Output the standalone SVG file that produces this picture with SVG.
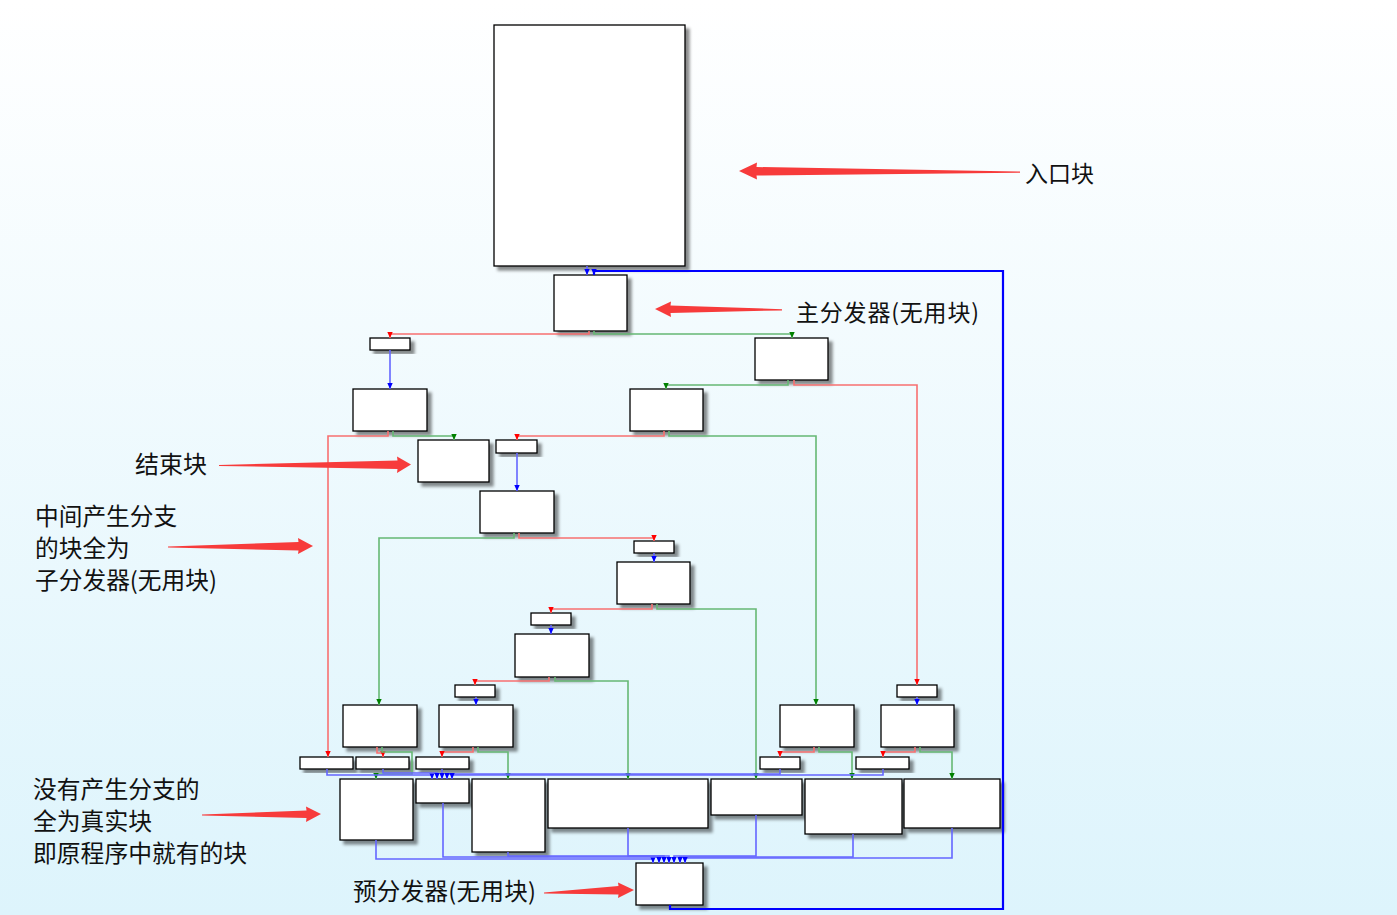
<svg xmlns="http://www.w3.org/2000/svg" width="1397" height="915" viewBox="0 0 1397 915">
<defs>
<linearGradient id="bg" x1="0" y1="0" x2="0" y2="1">
<stop offset="0" stop-color="#ffffff"/>
<stop offset="1" stop-color="#ddf4fc"/>
</linearGradient>
<filter id="sh" x="-20%" y="-20%" width="150%" height="150%">
<feDropShadow dx="4" dy="4" stdDeviation="1.6" flood-color="#000" flood-opacity="0.45"/>
</filter>
<marker id="ar" viewBox="0 0 6 6" refX="6" refY="3" markerWidth="6" markerHeight="6" markerUnits="userSpaceOnUse" orient="auto"><path d="M0,0.3 L6,3 L0,5.7z" fill="#f00"/></marker>
<marker id="ag" viewBox="0 0 6 6" refX="6" refY="3" markerWidth="6" markerHeight="6" markerUnits="userSpaceOnUse" orient="auto"><path d="M0,0.3 L6,3 L0,5.7z" fill="#008000"/></marker>
<marker id="ab" viewBox="0 0 6 6" refX="6" refY="3" markerWidth="6" markerHeight="6" markerUnits="userSpaceOnUse" orient="auto"><path d="M0,0.3 L6,3 L0,5.7z" fill="#00f"/></marker>
</defs>
<style>
.n rect{fill:#fff;stroke:#000;stroke-width:1.3;filter:url(#sh)}
#edges path{fill:none;stroke-width:1.6;stroke-linejoin:miter}
.r{stroke:#f87070;marker-end:url(#ar)}
.g{stroke:#66b874;marker-end:url(#ag)}
.b{stroke:#6466ff;marker-end:url(#ab)}
.loop{stroke:#0000ff;stroke-width:2.2 !important;marker-end:url(#ab)}
.note{fill:#f73b3b}
text{font-family:"Noto Sans CJK SC","Noto Sans",sans-serif;fill:#111}
</style>
<rect x="0" y="0" width="1397" height="915" fill="url(#bg)"/>

<g id="nodes">
<g id="entry" class="n"><rect x="494" y="25" width="191" height="241"/></g>
<g id="disp" class="n"><rect x="554" y="275" width="73" height="56"/></g>
<g id="sA" class="n"><rect x="370" y="338" width="40" height="12"/></g>
<g id="B" class="n"><rect x="755" y="338" width="73" height="42"/></g>
<g id="C" class="n"><rect x="353" y="389" width="74" height="42"/></g>
<g id="D" class="n"><rect x="630" y="389" width="73" height="42"/></g>
<g id="endblk" class="n"><rect x="418" y="440" width="71" height="42"/></g>
<g id="sE" class="n"><rect x="496" y="440" width="41" height="13"/></g>
<g id="F" class="n"><rect x="480" y="491" width="74" height="42"/></g>
<g id="sG" class="n"><rect x="634" y="541" width="40" height="12"/></g>
<g id="H" class="n"><rect x="617" y="562" width="73" height="42"/></g>
<g id="sI" class="n"><rect x="531" y="613" width="40" height="12"/></g>
<g id="J" class="n"><rect x="515" y="634" width="74" height="43"/></g>
<g id="sK" class="n"><rect x="455" y="685" width="40" height="12"/></g>
<g id="sL" class="n"><rect x="897" y="685" width="40" height="12"/></g>
<g id="M" class="n"><rect x="343" y="705" width="74" height="42"/></g>
<g id="N" class="n"><rect x="439" y="705" width="74" height="42"/></g>
<g id="O" class="n"><rect x="780" y="705" width="74" height="42"/></g>
<g id="P" class="n"><rect x="881" y="705" width="73" height="42"/></g>
<g id="s1" class="n"><rect x="300" y="757" width="53" height="12"/></g>
<g id="s2" class="n"><rect x="356" y="757" width="53" height="12"/></g>
<g id="s3" class="n"><rect x="416" y="757" width="53" height="12"/></g>
<g id="s4" class="n"><rect x="760" y="757" width="40" height="12"/></g>
<g id="s5" class="n"><rect x="856" y="757" width="53" height="12"/></g>
<g id="r1" class="n"><rect x="340" y="779" width="73" height="61"/></g>
<g id="r2" class="n"><rect x="416" y="779" width="53" height="24"/></g>
<g id="r3" class="n"><rect x="472" y="779" width="73" height="73"/></g>
<g id="r4" class="n"><rect x="548" y="779" width="160" height="49"/></g>
<g id="r5" class="n"><rect x="711" y="779" width="91" height="36"/></g>
<g id="r6" class="n"><rect x="805" y="779" width="97" height="55"/></g>
<g id="r7" class="n"><rect x="904" y="779" width="96" height="49"/></g>
<g id="pre" class="n"><rect x="636" y="863" width="67" height="42"/></g>
</g>

<g id="edges">
<path class="b" d="M587,266 V275"/>
<path class="r" d="M589,331 V334 H390 V338"/>
<path class="g" d="M594,331 V334 H792 V338"/>
<path class="b" d="M390,350 V389"/>
<path class="r" d="M388,431 V436 H328 V757"/>
<path class="g" d="M393,431 V436 H454 V440"/>
<path class="g" d="M788,380 V385 H666 V389"/>
<path class="r" d="M794,380 V385 H917 V685"/>
<path class="r" d="M664,431 V436 H517 V440"/>
<path class="g" d="M669,431 V436 H816 V705"/>
<path class="b" d="M517,453 V491"/>
<path class="g" d="M514,533 V538 H379 V705"/>
<path class="r" d="M519,533 V538 H654 V541"/>
<path class="b" d="M654,553 V562"/>
<path class="r" d="M652,604 V609 H551 V613"/>
<path class="g" d="M657,604 V609 H756 V779"/>
<path class="b" d="M551,625 V634"/>
<path class="r" d="M549,677 V681 H475 V685"/>
<path class="g" d="M555,677 V681 H628 V779"/>
<path class="b" d="M476,697 V705"/>
<path class="b" d="M917,697 V705"/>
<path class="r" d="M377,747 V753 H383 V757"/>
<path class="g" d="M382,747 V752 H412 V774 H376 V779"/>
<path class="r" d="M473,747 V752 H442 V757"/>
<path class="g" d="M478,747 V752 H508 V779"/>
<path class="r" d="M814,747 V752 H780 V757"/>
<path class="g" d="M819,747 V752 H852 V779"/>
<path class="r" d="M915,747 V752 H883 V757"/>
<path class="g" d="M920,747 V752 H952 V779"/>
<path class="b" d="M327,769 V775 H432 V779"/>
<path class="b" d="M383,769 V773 H437 V779"/>
<path class="b" d="M442,769 V779"/>
<path class="b" d="M780,769 V774 H447 V779"/>
<path class="b" d="M883,769 V775 H452 V779"/>
<path class="b" d="M376,840 V859 H653 V863"/>
<path class="b" d="M443,803 V857 H659 V863"/>
<path class="b" d="M508,852 V856 H664 V863"/>
<path class="b" d="M628,828 V856 H669 V863"/>
<path class="b" d="M756,815 V856 H674 V863"/>
<path class="b" d="M853,834 V857 H680 V863"/>
<path class="b" d="M952,828 V858 H685 V863"/>
<path class="loop" d="M670,905 V909 H1003 V271 H594 V275"/>
</g>

<g id="annotations">
<polygon class="note" points="739,171 757,162.5 756.5,167 1020,171.5 1020,172.8 756.5,175.5 757,179.5"/>
<polygon class="note" points="655,309 671,301.5 670.5,305.5 782,309.2 782,310.4 670.5,313 671,317"/>
<polygon class="note" points="411,464.5 397,456.5 397.5,460.5 219,465 219,466 397.5,469 397,473"/>
<polygon class="note" points="313,546 298,538 298.5,542 168,546.5 168,547.6 298.5,550.5 298,554"/>
<polygon class="note" points="321,814 306,806.5 306.5,810.5 202,814.5 202,815.6 306.5,818 306,822"/>
<polygon class="note" points="634,890 618,882.5 618.5,886 544,892.5 544,893.6 618.5,894.5 618,898"/>
<text x="1025" y="182" font-size="23">入口块</text>
<text x="796" y="321" font-size="23" textLength="183">主分发器(无用块)</text>
<text x="135" y="473" font-size="24">结束块</text>
<text x="35" y="525" font-size="23.7">中间产生分支</text>
<text x="35" y="557" font-size="23.7">的块全为</text>
<text x="35" y="589" font-size="23.7" textLength="182">子分发器(无用块)</text>
<text x="33" y="798" font-size="23.8">没有产生分支的</text>
<text x="33" y="830" font-size="23.8">全为真实块</text>
<text x="33" y="862" font-size="23.8">即原程序中就有的块</text>
<text x="353" y="900" font-size="23.5" textLength="183">预分发器(无用块)</text>
</g>
</svg>
